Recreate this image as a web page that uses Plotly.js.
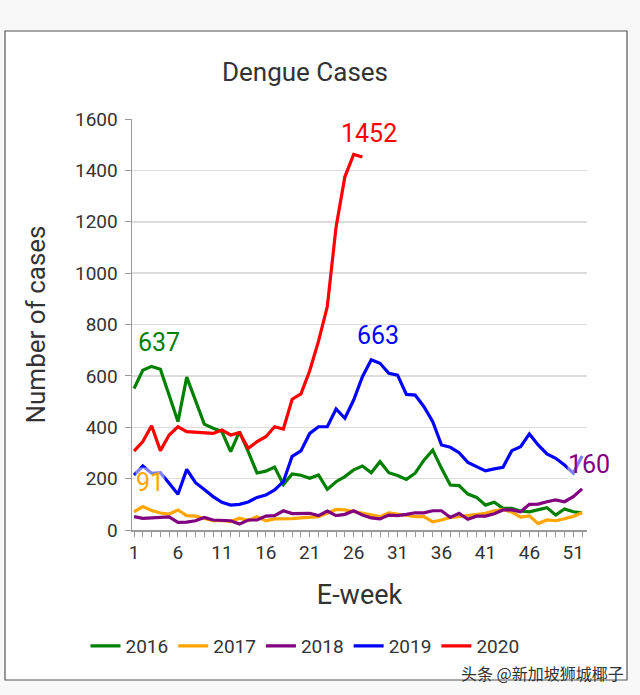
<!DOCTYPE html>
<html>
<head>
<meta charset="utf-8">
<script src="https://cdn.plot.ly/plotly-3.0.1.min.js"></script>
<style>html,body{margin:0;padding:0;background:#f8f8f8;}#chart{width:640px;height:695px;}</style>
</head>
<body>
<div id="chart"></div>
<script>
const weeks = Array.from({length: 52}, (_, i) => i + 1);
const tickWeeks = [1, 6, 11, 16, 21, 26, 31, 36, 41, 46, 51];
const yTicks = [0, 200, 400, 600, 800, 1000, 1200, 1400, 1600];

const cases2016 = [551,622,637,626,525,422,595,506,412,396,383,305,383,305,222,229,245,177,218,213,201,214,158,188,208,234,249,223,266,223,212,197,221,272,311,240,175,173,140,127,97,108,84,84,74,71,78,87,58,82,71,67];
const cases2017 = [71,91,76,66,62,78,56,54,45,36,37,33,46,37,52,36,43,42,44,47,49,52,65,80,78,71,65,60,52,67,61,56,52,52,32,39,49,52,56,60,65,75,80,70,50,55,25,39,36,44,53,68];
const cases2018 = [52,45,47,49,51,30,31,36,49,39,39,36,23,39,39,54,56,75,64,64,65,56,74,56,61,75,58,47,43,58,56,61,67,67,75,75,49,65,42,54,54,63,78,78,71,100,101,110,117,110,130,160];
const cases2019 = [214,249,221,223,182,139,236,184,158,130,108,97,100,109,127,136,156,188,287,308,376,402,402,471,435,506,597,663,649,610,603,528,525,480,422,331,322,301,263,247,230,238,244,309,324,374,331,296,279,253,221,288];
const cases2020 = [307,344,406,309,370,402,383,380,376,376,389,370,379,318,344,363,402,393,509,530,620,735,870,1180,1375,1462,1452];

const seriesNames = ['2016', '2017', '2018', '2019', '2020'];
const seriesData = [cases2016, cases2017, cases2018, cases2019, cases2020];
const seriesColors = ['#008000', '#FFA500', '#800080', '#0000FF', '#FF0000'];

// data labels: [series index, week]
const labelPoints = [[0, 3], [3, 28], [4, 27], [1, 2], [2, 52]];

const traces = seriesData.map((vals, i) => ({
  type: 'scatter', mode: 'lines', name: seriesNames[i],
  x: weeks.slice(0, vals.length), y: vals,
  line: {color: seriesColors[i], width: 3.2},
  hoverinfo: 'x+y+name'
}));

const W = 640, H = 695;
const m = {l: 132, r: 53, t: 119, b: 165};
const pw = W - m.l - m.r, ph = H - m.t - m.b;
const px = v => (v - m.l) / pw;
const py = v => (H - m.b - v) / ph;

const font = 'Roboto, Arial, sans-serif';

const annotations = labelPoints.map(([si, wk]) => {
  const v = seriesData[si][wk - 1];
  const withBg = (si === 1 || si === 2);
  return {
    x: wk, y: v, xref: 'x', yref: 'y', text: String(v), showarrow: false,
    xshift: 7, yshift: 24,
    font: {family: font, size: 25, color: seriesColors[si]},
    bgcolor: withBg ? 'rgba(255,255,255,0.5)' : 'rgba(0,0,0,0)', borderpad: 0
  };
});
annotations.push({
  xref: 'paper', yref: 'paper', x: px(626), y: py(673), xanchor: 'right', yanchor: 'middle',
  text: '头条 @新加坡狮城椰子', showarrow: false,
  font: {family: '"Noto Sans CJK SC", sans-serif', size: 16, color: '#333'}
});

const layout = {
  width: W, height: H,
  margin: m,
  paper_bgcolor: '#f8f8f8',
  plot_bgcolor: 'rgba(0,0,0,0)',
  font: {family: font, color: '#333'},
  title: {text: 'Dengue Cases', font: {family: font, size: 26, color: '#333'}, x: 305 / W, xanchor: 'center', y: 1 - 72 / H, yanchor: 'middle'},
  xaxis: {
    range: [0.77, 52.56],
    tickmode: 'array', tickvals: weeks,
    ticktext: weeks.map(w => tickWeeks.includes(w) ? String(w) : ''),
    ticks: 'outside', ticklen: 5, tickcolor: '#999', tickwidth: 1,
    showline: true, linecolor: '#999', linewidth: 1.5,
    showgrid: false, zeroline: false,
    tickfont: {family: font, size: 19, color: '#333'},
    title: {text: 'E-week', font: {family: font, size: 27, color: '#333'}, standoff: 22}
  },
  yaxis: {
    range: [0, 1600],
    tickmode: 'array', tickvals: yTicks,
    ticks: 'outside', ticklen: 6, tickcolor: '#999', tickwidth: 1,
    ticklabelstandoff: 3,
    showline: true, linecolor: '#999', linewidth: 1.5,
    showgrid: true, gridcolor: '#dcdcdc', gridwidth: 1.5, zeroline: false,
    tickfont: {family: font, size: 19, color: '#333'},
    title: {text: 'Number of cases', font: {family: font, size: 26, color: '#333'}, standoff: 22}
  },
  legend: {
    orientation: 'h', x: px(305), xanchor: 'center', y: py(646), yanchor: 'middle',
    font: {family: font, size: 19, color: '#333'}, bgcolor: 'rgba(0,0,0,0)'
  },
  shapes: [{
    type: 'rect', xref: 'paper', yref: 'paper', layer: 'below',
    x0: px(5), x1: px(627), y0: py(680), y1: py(31),
    fillcolor: '#ffffff', line: {color: '#555', width: 1.2}
  }],
  annotations: annotations,
  showlegend: true
};

Plotly.newPlot('chart', traces, layout, {displayModeBar: false, staticPlot: true});
</script>
</body>
</html>
